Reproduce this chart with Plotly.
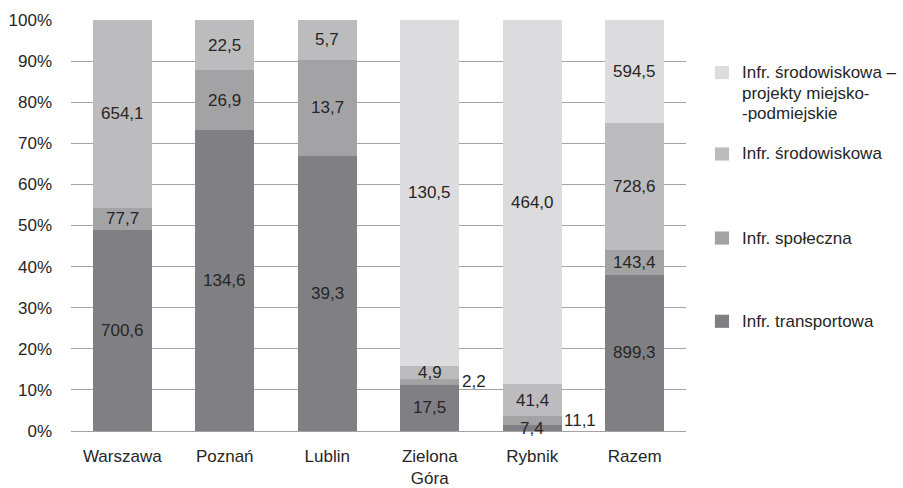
import plotly.graph_objects as go

categories = ["Warszawa", "Poznań", "Lublin", "Zielona<br>Góra", "Rybnik", "Razem"]
series_names = [
    "Infr. transportowa",
    "Infr. społeczna",
    "Infr. środowiskowa",
    "Infr. środowiskowa –<br>projekty miejsko-<br>-podmiejskie",
]
transport = [700.6, 134.6, 39.3, 17.5, 7.4, 899.3]
spoleczna = [77.7, 26.9, 13.7, 2.2, 11.1, 143.4]
srodowiskowa = [654.1, 22.5, 5.7, 4.9, 41.4, 728.6]
projekty = [0, 0, 0, 130.5, 464.0, 594.5]
y_ticks = [0, 10, 20, 30, 40, 50, 60, 70, 80, 90, 100]

colors = ["#808084", "#a3a3a6", "#bcbcbf", "#dcdcde"]
series = [transport, spoleczna, srodowiskowa, projekty]
totals = [sum(v) for v in zip(*series)]

FONT = "Liberation Sans, Arial, sans-serif"
TXT = "#262626"
FS = 17

fig = go.Figure()
for name, vals, col in zip(series_names, series, colors):
    pct = [v / t * 100 for v, t in zip(vals, totals)]
    fig.add_trace(go.Bar(x=categories, y=pct, name=name, marker=dict(color=col, line=dict(width=0)),
                         showlegend=False, hoverinfo="skip"))

annotations = []
cum = [0.0] * len(categories)
for si, vals in enumerate(series):
    for ci, v in enumerate(vals):
        p = v / totals[ci] * 100
        if v > 0:
            mid = cum[ci] + p / 2
            label = f"{v:.1f}".replace(".", ",")
            outside = (si == 1 and p < 3)
            annotations.append(dict(
                x=categories[ci], y=mid, xref="x", yref="y", text=label, showarrow=False,
                font=dict(family=FONT, size=FS, color=TXT),
                xanchor="left" if outside else "center",
                xshift=30 if outside else 0,
            ))
        cum[ci] += p

# manual legend (reverse order, as in reference)
PLOT_H = 410.0
legend_y = [0.872, 0.674, 0.4695, 0.267]
line_gap = 20.5 / PLOT_H
for i, (name, col) in enumerate(zip(series_names[::-1], colors[::-1])):
    yc = legend_y[i]
    fig.add_shape(type="rect", xref="paper", yref="paper",
                  x0=1.047, x1=1.070, y0=yc - 0.016, y1=yc + 0.016,
                  fillcolor=col, line=dict(width=0))
    for li, line in enumerate(name.split("<br>")):
        annotations.append(dict(
            x=1.087, y=yc - li * line_gap, xref="paper", yref="paper", text=line, showarrow=False,
            xanchor="left", yanchor="middle", align="left",
            font=dict(family=FONT, size=FS, color=TXT),
        ))

fig.update_layout(
    barmode="stack",
    bargap=0.424,
    width=903, height=488,
    margin=dict(l=71, r=217, t=20, b=57),
    paper_bgcolor="white", plot_bgcolor="white",
    font=dict(family=FONT, size=FS, color=TXT),
    annotations=annotations,
    showlegend=False,
)
fig.update_yaxes(range=[0, 100], tickvals=y_ticks, ticktext=[f"{t}%" for t in y_ticks],
                 showgrid=True, gridcolor="#a3a3a3", gridwidth=1.3, zeroline=False,
                 showline=False, ticks="", ticklabelstandoff=18, automargin=False,
                 tickfont=dict(family=FONT, size=FS, color=TXT))
fig.update_xaxes(showline=True, linecolor="#a3a3a3", linewidth=1.3, ticks="",
                 ticklabelstandoff=9, automargin=False,
                 tickfont=dict(family=FONT, size=FS, color=TXT))

fig.write_html("out.html", config={"displayModeBar": False},
               post_script="document.body.style.margin='0';")
